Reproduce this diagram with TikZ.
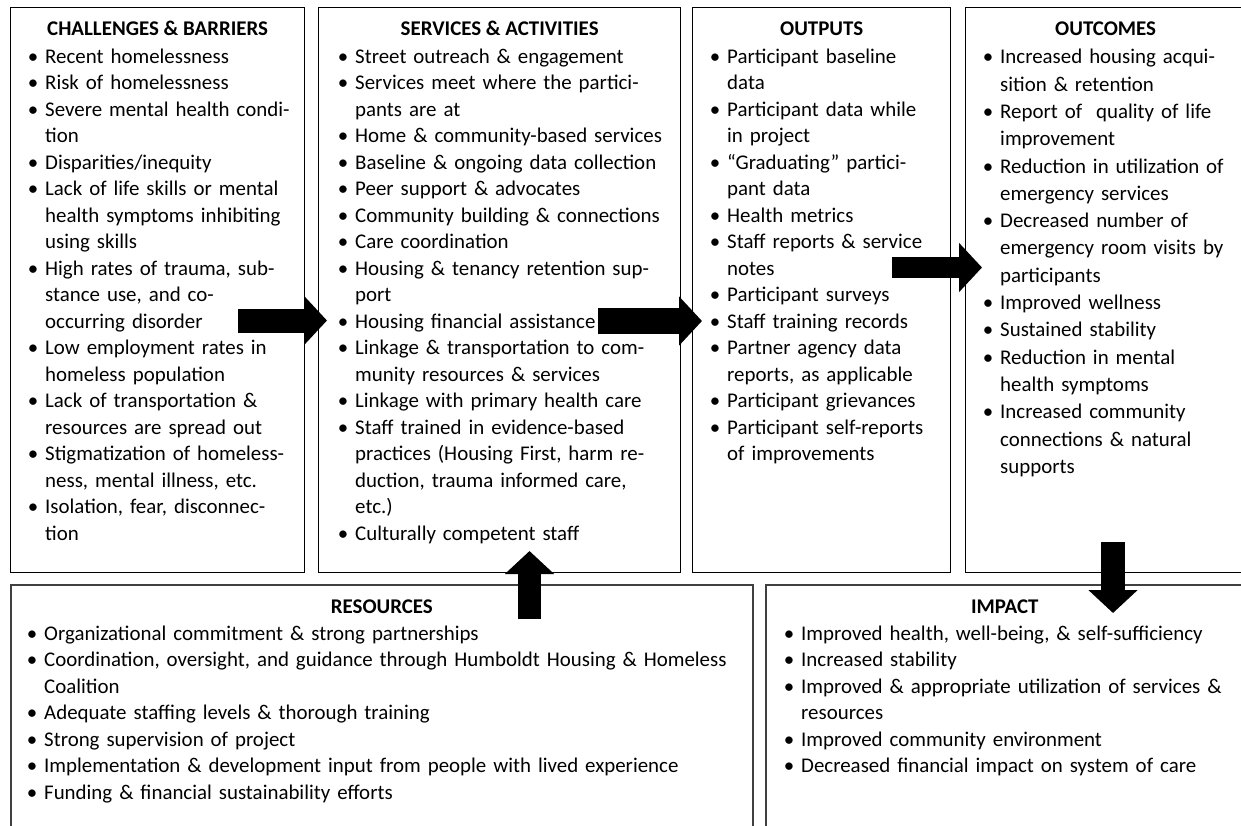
\documentclass[tikz,border=0pt]{standalone}
\usepackage{fontspec}
\setmainfont{Carlito}
\usetikzlibrary{arrows.meta, positioning, calc}
\newcommand{\bul}{\strut\llap{\textbullet\hspace{7pt}}}
\tikzset{
	box/.style={
		draw,
		line width=1.3pt,
		anchor=north west,
		inner sep=0pt
	},
	lowbox/.style={
		box,
		draw=black!75,
		line width=1.7pt
	},
	heading/.style={
		anchor=base,
		inner sep=0pt,
		font=\fontsize{20.9pt}{26.5pt}\selectfont\bfseries
	},
	items/.style={
		anchor=north west,
		align=left,
		inner sep=0pt,
		text width=#1
	},
	items/.default=250pt,
	fatarrow/.style={
		line width=24pt,
		-{Triangle[length=23pt, width=48pt]}
	}
}

\begin{document}
\begin{tikzpicture}[x=1pt, y=-1pt, font=\fontsize{20.9pt}{26.5pt}\selectfont]
\useasboundingbox (0,0) rectangle (1241,825);
\fill[white] (0,0) rectangle (1241,825);

\node[box, minimum width=294pt, minimum height=565pt] (chal) at (10,7) {};
\node[box, minimum width=362pt, minimum height=565pt] (serv) at (318,7) {};
\node[box, minimum width=258pt, minimum height=565pt] (outp) at (692,7) {};
\node[box, minimum width=280pt, minimum height=565pt] (outc) at (965,7) {};
\node[lowbox, minimum width=742pt, minimum height=280pt] (reso) at (10,584) {};
\node[lowbox, minimum width=478pt, minimum height=280pt] (impa) at (765,584) {};

\node[heading] (chalT) at ([yshift=-28pt]chal.north) {CHALLENGES \& BARRIERS};
\node[heading] (servT) at ([yshift=-28pt]serv.north) {SERVICES \& ACTIVITIES};
\node[heading] (outpT) at ([yshift=-28pt]outp.north) {OUTPUTS};
\node[heading] (outcT) at ([yshift=-28pt]outc.north) {OUTCOMES};
\node[heading] (resoT) at ([yshift=-29pt]reso.north) {RESOURCES};
\node[heading] (impaT) at ([yshift=-29pt]impa.north) {IMPACT};

\node[items=290pt] (chalL) at ([xshift=35pt, yshift=-37.5pt]chal.north west) {
\bul Recent homelessness\\
\bul Risk of homelessness\\
\bul Severe mental health condi-\\
tion\\
\bul Disparities/inequity\\
\bul Lack of life skills or mental\\
health symptoms inhibiting\\
using skills\\
\bul High rates of trauma, sub-\\
stance use, and co-\\
occurring disorder\\
\bul Low employment rates in\\
homeless population\\
\bul Lack of transportation \&\\
resources are spread out\\
\bul Stigmatization of homeless-\\
ness, mental illness, etc.\\
\bul Isolation, fear, disconnec-\\
tion};

\node[items=360pt] (servL) at ([xshift=37pt, yshift=-37.5pt]serv.north west) {
\bul Street outreach \& engagement\\
\bul Services meet where the partici-\\
pants are at\\
\bul Home \& community-based services\\
\bul Baseline \& ongoing data collection\\
\bul Peer support \& advocates\\
\bul Community building \& connections\\
\bul Care coordination\\
\bul Housing \& tenancy retention sup-\\
port\\
\bul Housing financial assistance\\
\bul Linkage \& transportation to com-\\
munity resources \& services\\
\bul Linkage with primary health care\\
\bul Staff trained in evidence-based\\
practices (Housing First, harm re-\\
duction, trauma informed care,\\
etc.)\\
\bul Culturally competent staff};

\node[items=255pt] (outpL) at ([xshift=35pt, yshift=-37.5pt]outp.north west) {
\bul Participant baseline\\
data\\
\bul Participant data while\\
in project\\
\bul “Graduating” partici-\\
pant data\\
\bul Health metrics\\
\bul Staff reports \& service\\
notes\\
\bul Participant surveys\\
\bul Staff training records\\
\bul Partner agency data\\
reports, as applicable\\
\bul Participant grievances\\
\bul Participant self-reports\\
of improvements};

\node[items=275pt, font=\fontsize{20.9pt}{27.3pt}\selectfont] (outcL) at ([xshift=35pt, yshift=-37.5pt]outc.north west) {
\bul Increased housing acqui-\\
sition \& retention\\
\bul Report of\ \ quality of life\\
improvement\\
\bul Reduction in utilization of\\
emergency services\\
\bul Decreased number of\\
emergency room visits by\\
participants\\
\bul Improved wellness\\
\bul Sustained stability\\
\bul Reduction in mental\\
health symptoms\\
\bul Increased community\\
connections \& natural\\
supports};

\node[items=720pt] (resoL) at ([xshift=34pt, yshift=-37.5pt]reso.north west) {
\bul Organizational commitment \& strong partnerships\\
\bul Coordination, oversight, and guidance through Humboldt Housing \& Homeless\\
Coalition\\
\bul Adequate staffing levels \& thorough training\\
\bul Strong supervision of project\\
\bul Implementation \& development input from people with lived experience\\
\bul Funding \& financial sustainability efforts};

\node[items=460pt] (impaL) at ([xshift=36pt, yshift=-37.5pt]impa.north west) {
\bul Improved health, well-being, \& self-sufficiency\\
\bul Increased stability\\
\bul Improved \& appropriate utilization of services \&\\
resources\\
\bul Improved community environment\\
\bul Decreased financial impact on system of care};

\coordinate (a1) at (238,320.5);
\coordinate (b1) at (327,320.5);
\coordinate (a2) at (598,321);
\coordinate (b2) at (702,321);
\coordinate (a3) at (892,267.5);
\coordinate (b3) at (982,267.5);
\coordinate (a4) at (529.5,619);
\coordinate (b4) at (529.5,551);
\coordinate (a5) at (1113,542);
\coordinate (b5) at (1113,613);

\draw[fatarrow] (a1) -- (b1);
\draw[fatarrow, line width=26pt] (a2) -- (b2);
\draw[fatarrow, line width=21pt] (a3) -- (b3);
\draw[fatarrow, line width=23pt] (a4) -- (b4);
\draw[fatarrow] (a5) -- (b5);
\end{tikzpicture}
\end{document}
